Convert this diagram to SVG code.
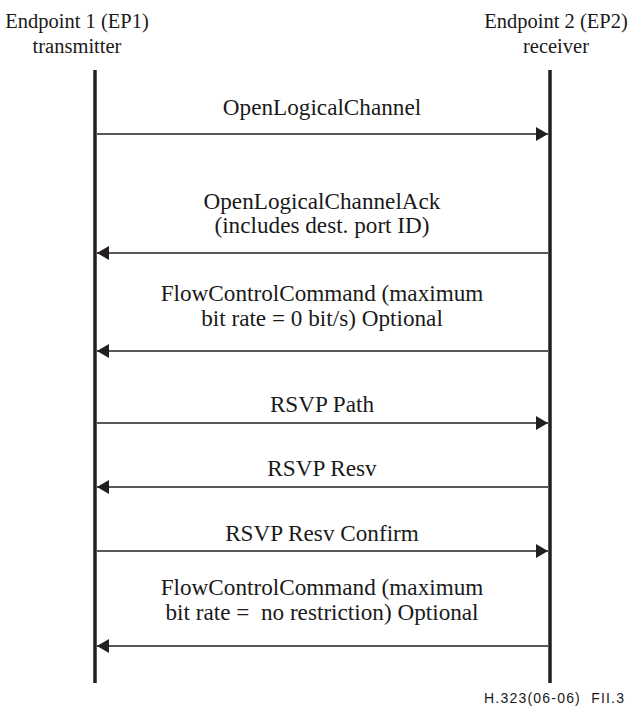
<svg xmlns="http://www.w3.org/2000/svg" width="636" height="706" viewBox="0 0 636 706">
<style>
.t{font-family:"Liberation Serif","Times New Roman",serif;font-size:23.2px;fill:#1a1a1a;text-anchor:middle}
.h{font-family:"Liberation Serif","Times New Roman",serif;font-size:20.5px;fill:#1a1a1a;text-anchor:middle}
.f{font-family:"Liberation Sans",Arial,sans-serif;font-size:14px;fill:#1a1a1a;text-anchor:middle}
.life{stroke:#231f20;stroke-width:3.5}
.msg{stroke:#231f20;stroke-width:1.5;fill:none}
</style>
<defs>
<marker id="ah" viewBox="0 0 12 14" refX="12" refY="7" markerWidth="12" markerHeight="14" markerUnits="userSpaceOnUse" orient="auto">
<path d="M0,0 L12,7 L0,14 Z" fill="#231f20"/>
</marker>
</defs>
<rect width="636" height="706" fill="#fff"/>
<g id="ep1">
<text class="h" x="77" y="28">Endpoint 1 (EP1)</text>
<text class="h" x="77" y="53">transmitter</text>
<line class="life" x1="95" y1="70" x2="95" y2="683"/>
</g>
<g id="ep2">
<text class="h" x="556" y="28">Endpoint 2 (EP2)</text>
<text class="h" x="556" y="53">receiver</text>
<line class="life" x1="550" y1="70" x2="550" y2="683"/>
</g>
<g id="connectors">
<line class="msg" x1="97" y1="134" x2="548" y2="134" marker-end="url(#ah)"/>
<line class="msg" x1="548" y1="253" x2="97" y2="253" marker-end="url(#ah)"/>
<line class="msg" x1="548" y1="351" x2="97" y2="351" marker-end="url(#ah)"/>
<line class="msg" x1="97" y1="423" x2="548" y2="423" marker-end="url(#ah)"/>
<line class="msg" x1="548" y1="487" x2="97" y2="487" marker-end="url(#ah)"/>
<line class="msg" x1="97" y1="551" x2="548" y2="551" marker-end="url(#ah)"/>
<line class="msg" x1="548" y1="646" x2="97" y2="646" marker-end="url(#ah)"/>
</g>
<g id="labels">
<text class="t" x="322" y="115">OpenLogicalChannel</text>
<text class="t" x="322" y="209">OpenLogicalChannelAck</text>
<text class="t" x="322" y="233">(includes dest. port ID)</text>
<text class="t" x="322" y="301">FlowControlCommand (maximum</text>
<text class="t" x="322" y="326">bit rate = 0 bit/s) Optional</text>
<text class="t" x="322" y="412">RSVP Path</text>
<text class="t" x="322" y="476">RSVP Resv</text>
<text class="t" x="322" y="541">RSVP Resv Confirm</text>
<text class="t" x="322" y="595">FlowControlCommand (maximum</text>
<text class="t" x="322" y="620" xml:space="preserve">bit rate =  no restriction) Optional</text>
</g>
<text class="f" x="554" y="703" textLength="140" lengthAdjust="spacing" xml:space="preserve">H.323(06-06)  FII.3</text>
</svg>
